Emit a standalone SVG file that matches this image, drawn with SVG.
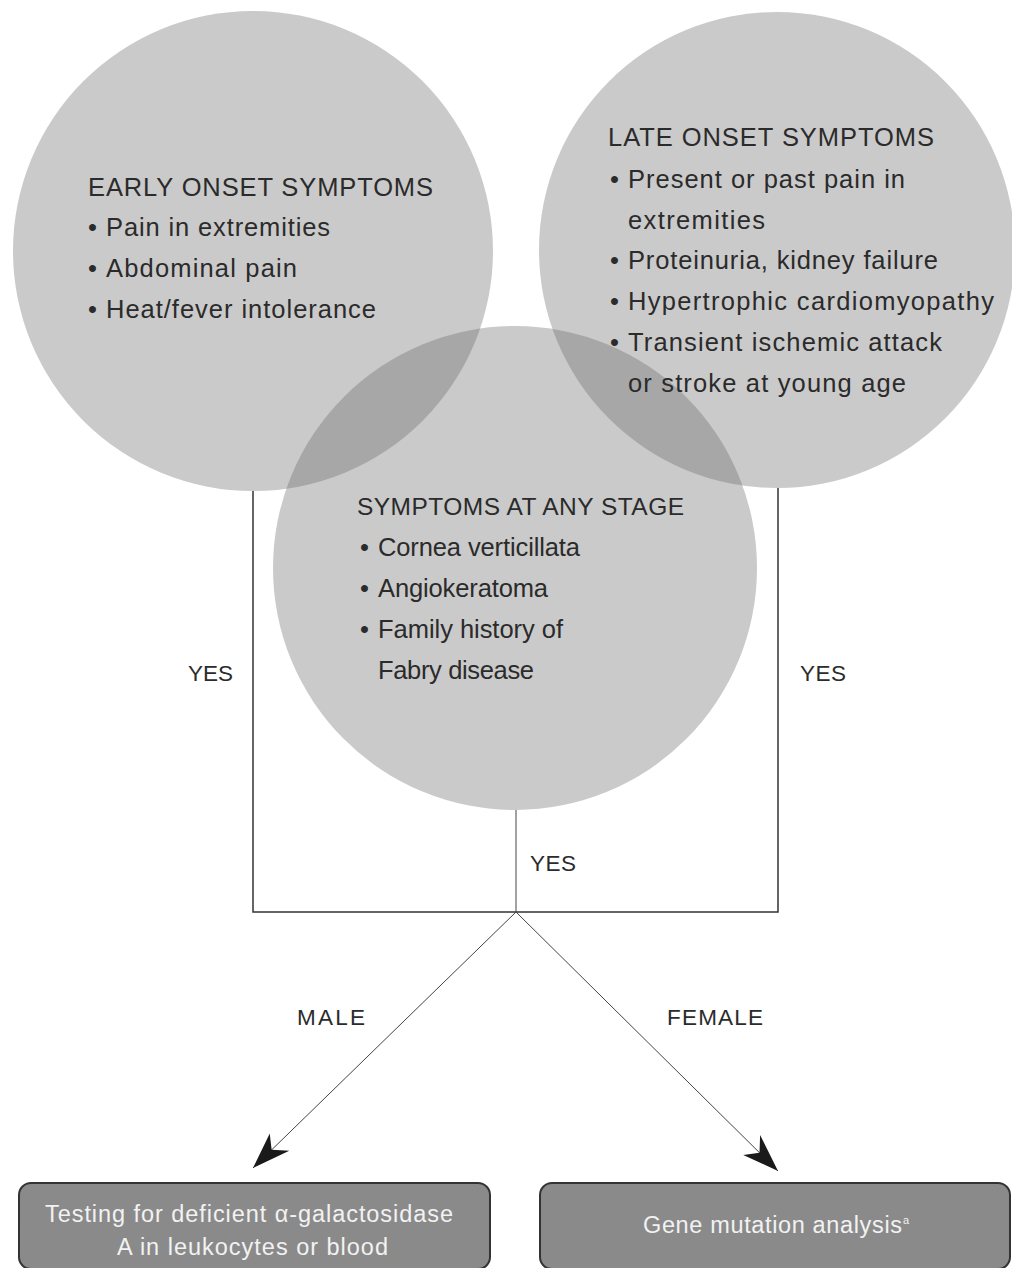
<svg xmlns="http://www.w3.org/2000/svg" width="1012" height="1268" viewBox="0 0 1012 1268">
<style>
.circ{fill:#cacaca;}
.lens{fill:#a7a7a7;}
.t{font-family:"Liberation Sans",Arial,sans-serif;font-size:25.5px;fill:#2b2b2b;}
.lbl{font-family:"Liberation Sans",Arial,sans-serif;font-size:22.5px;fill:#2b2b2b;}
.bt{font-family:"Liberation Sans",Arial,sans-serif;font-size:23.5px;fill:#f2f2f2;}
.box{fill:#8a8a8a;stroke:#333;stroke-width:2;}
.ln{fill:none;stroke:#333;stroke-width:1.5;}
.thin{fill:none;stroke:#444;stroke-width:1;}
</style>
<defs>
<clipPath id="clipLeft"><circle cx="253" cy="251" r="240"/></clipPath>
<clipPath id="clipRight"><circle cx="777" cy="250" r="238"/></clipPath>
<marker id="arr" viewBox="0 -15 38 30" refX="38" refY="0" markerWidth="38" markerHeight="30" markerUnits="userSpaceOnUse" orient="auto">
<path d="M38,0 L0,-13 L12,0 L2,13 Z" fill="#1a1a1a"/>
</marker>
</defs>
<rect width="1012" height="1268" fill="#ffffff"/>
<g id="connectors">
<path class="ln" d="M253,470 L253,912 L778,912 L778,470"/>
<line class="thin" x1="516" y1="800" x2="516" y2="912"/>
<line class="thin" x1="516" y1="912" x2="253" y2="1168" marker-end="url(#arr)"/>
<line class="thin" x1="516" y1="912" x2="778" y2="1171" marker-end="url(#arr)"/>
</g>
<g id="early-onset">
<circle class="circ" cx="253" cy="251" r="240"/>
</g>
<g id="late-onset">
<circle class="circ" cx="777" cy="250" r="238"/>
</g>
<g id="any-stage">
<circle class="circ" cx="515" cy="568" r="242"/>
<circle class="lens" cx="515" cy="568" r="242" clip-path="url(#clipLeft)"/>
<circle class="lens" cx="515" cy="568" r="242" clip-path="url(#clipRight)"/>
</g>
<g id="early-text">
<text class="t" x="88" y="196" textLength="345" lengthAdjust="spacing">EARLY ONSET SYMPTOMS</text>
<text class="t" x="88" y="236">•</text><text class="t" x="106" y="236" textLength="224" lengthAdjust="spacing">Pain in extremities</text>
<text class="t" x="88" y="277">•</text><text class="t" x="106" y="277" textLength="191" lengthAdjust="spacing">Abdominal pain</text>
<text class="t" x="88" y="318">•</text><text class="t" x="106" y="318" textLength="270" lengthAdjust="spacing">Heat/fever intolerance</text>
</g>
<g id="late-text">
<text class="t" x="608" y="146" textLength="326" lengthAdjust="spacing">LATE ONSET SYMPTOMS</text>
<text class="t" x="610" y="188">•</text><text class="t" x="628" y="188" textLength="277" lengthAdjust="spacing">Present or past pain in</text>
<text class="t" x="628" y="229" textLength="137" lengthAdjust="spacing">extremities</text>
<text class="t" x="610" y="269">•</text><text class="t" x="628" y="269" textLength="310" lengthAdjust="spacing">Proteinuria, kidney failure</text>
<text class="t" x="610" y="310">•</text><text class="t" x="628" y="310" textLength="366" lengthAdjust="spacing">Hypertrophic cardiomyopathy</text>
<text class="t" x="610" y="351">•</text><text class="t" x="628" y="351" textLength="314" lengthAdjust="spacing">Transient ischemic attack</text>
<text class="t" x="628" y="392" textLength="278" lengthAdjust="spacing">or stroke at young age</text>
</g>
<g id="any-text">
<text class="t" x="357" y="515" style="font-size:24.5px" textLength="327" lengthAdjust="spacing">SYMPTOMS AT ANY STAGE</text>
<text class="t" x="360" y="556">•</text><text class="t" x="378" y="556" textLength="202" lengthAdjust="spacing">Cornea verticillata</text>
<text class="t" x="360" y="597">•</text><text class="t" x="378" y="597" textLength="170" lengthAdjust="spacing">Angiokeratoma</text>
<text class="t" x="360" y="638">•</text><text class="t" x="378" y="638" textLength="185" lengthAdjust="spacing">Family history of</text>
<text class="t" x="378" y="679" textLength="156" lengthAdjust="spacing">Fabry disease</text>
</g>
<g id="labels">
<text class="lbl" x="188" y="681" textLength="45" lengthAdjust="spacing">YES</text>
<text class="lbl" x="800" y="681" textLength="46" lengthAdjust="spacing">YES</text>
<text class="lbl" x="530" y="871" textLength="46" lengthAdjust="spacing">YES</text>
<text class="lbl" x="297" y="1025" textLength="68" lengthAdjust="spacing">MALE</text>
<text class="lbl" x="667" y="1025" textLength="96" lengthAdjust="spacing">FEMALE</text>
</g>
<g id="male-test">
<rect class="box" x="19" y="1183" width="471" height="86" rx="12"/>
<text class="bt" x="45" y="1222" textLength="408" lengthAdjust="spacing">Testing for deficient α-galactosidase</text>
<text class="bt" x="117" y="1255" textLength="271" lengthAdjust="spacing">A in leukocytes or blood</text>
</g>
<g id="female-test">
<rect class="box" x="540" y="1183" width="470" height="86" rx="12"/>
<text class="bt" x="643" y="1233" textLength="259" lengthAdjust="spacing">Gene mutation analysis</text>
<text class="bt" x="903" y="1224" style="font-size:11px">a</text>
</g>
</svg>
